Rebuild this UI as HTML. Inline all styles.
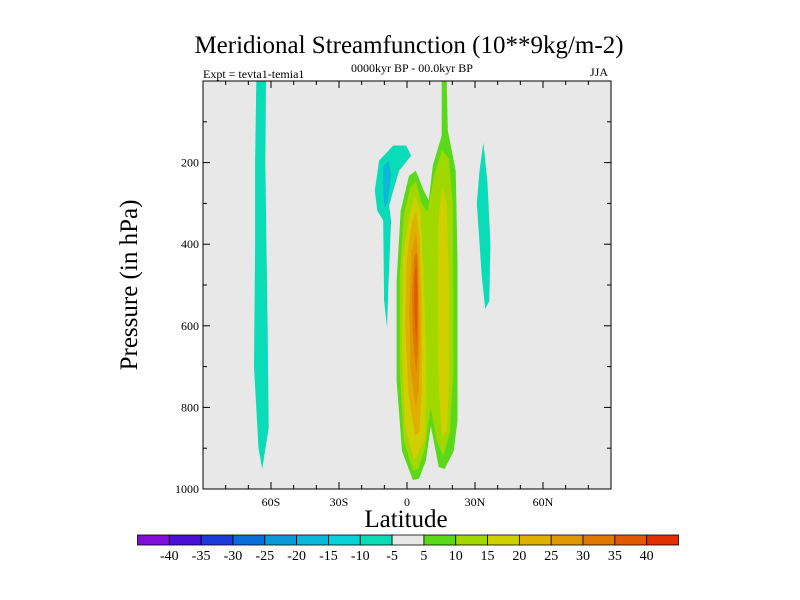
<!DOCTYPE html>
<html><head><meta charset="utf-8"><style>
body{margin:0;background:#fff}
svg{display:block;font-family:"Liberation Serif",serif}
</style></head><body>
<svg id="c" width="800" height="600">
<text x="409" y="53" text-anchor="middle" font-size="25">Meridional Streamfunction (10**9kg/m-2)</text>
<text x="203" y="78" font-size="12">Expt = tevta1-temia1</text>
<text x="412" y="72" text-anchor="middle" font-size="12">0000kyr BP - 00.0kyr BP</text>
<text x="599" y="76" text-anchor="middle" font-size="12">JJA</text>
<text x="406" y="527" text-anchor="middle" font-size="25">Latitude</text>
<text transform="translate(137,285) rotate(-90)" text-anchor="middle" font-size="25">Pressure (in hPa)</text>
<rect x="203" y="81" width="408" height="408" fill="#e8e8e8"/>
<g id="marks"></g>
<g id="axes"></g>
<rect x="203" y="81" width="408" height="408" fill="none" stroke="#000" stroke-width="1"/>
<g id="cbar"></g>
</svg>
<script>
const levelValues=[5,10,15,20,25,30,35,-5,-5,-5,-15];
const levelColors=["#5ad81a","#a0d800","#d0d000","#e0b000","#e09800","#e07800","#e05800","#0adcb8","#0adcb8","#0adcb8","#0ab8d8"];
const blobLat=[
[2.6,-2.2,-4.6,-4.6,-2.8,0.9,3.9,7.4,9.6,11.4,15.3,15.3,17.5,18,21.5,22.3,22.3,20.6,16.6,14,10.5,8.3,5.3],
[2.6,-1.5,-3.2,-3.2,-1.5,1.5,4,6.5,9,12,15.5,18.5,20.2,20.5,19,16,13,10.5,8,5],
[3,-1,-2.2,-1.8,1,3.5,6,7.5,8.5,8],
[3.5,0.5,-0.7,-0.2,2,4,5.5,6.5,6.5,5.5],
[3.8,1.5,1,2,4,5.2,5.6,5.2],
[4,2.5,2.3,3.2,4.5,5,5],
[4,3.2,3.3,4.2,4.6,4.5],
[-66.5,-62.2,-62.5,-61.5,-61,-63.9,-65.5,-67.5,-67,-67],
[-14.2,-12.3,-6.1,-0.4,1.8,-3.5,-6.1,-7.9,-7,-8.3,-8.8,-10.1,-10.5,-13.1],
[33.7,35.5,36.8,36.3,34.5,33,30.8,32],
[-10.5,-8,-7,-8.5,-10,-10.5]];
const blobP=[
[978,907,735,490,318,232,220,269,293,207,134,0,0,121,220,440,833,907,951,946,845,931,975],
[955,880,700,480,330,260,245,300,320,230,170,190,300,700,860,920,880,800,900,950],
[930,840,650,430,330,280,320,500,700,880],
[870,760,600,440,350,320,380,560,760,860],
[800,700,560,420,370,450,620,760],
[720,620,520,430,420,520,650],
[640,560,480,440,520,600],
[0,0,200,600,850,951,900,700,400,200],
[269,195,158,158,183,220,269,306,342,514,605,539,342,318],
[151,250,400,540,558,480,300,220],
[210,195,230,300,310,260]];
const extraLat=[15.5,17.5,18.5,18.5,17.5,15.5,14,13.5,14];
const extraP=[260,300,500,750,860,870,750,500,330];
const xTicks=[-60,-30,0,30,60];
const xTickLabels=["60S","30S","0","30N","60N"];
const yTicks=[200,400,600,800,1000];
const cbarColors=["#8010d8","#4a10d8","#1e3ad8","#0a6ed8","#0a9ad8","#0ab8d8","#0ad0d8","#0adcb8","#e8e8e8","#5ad81a","#a0d800","#d0d000","#e0b000","#e09800","#e07800","#e05800","#e03000"];
const cbarLabels=["-40","-35","-30","-25","-20","-15","-10","-5","5","10","15","20","25","30","35","40"];
const NS="http://www.w3.org/2000/svg";
const X0=203,X1=611,Y0=81,Y1=489;
const sx=lat=>X0+(lat+90)/180*(X1-X0);
const sy=p=>Y0+p/1000*(Y1-Y0);
function mk(tag,parent){const e=document.createElementNS(NS,tag);document.getElementById(parent).appendChild(e);return e;}
function poly(lats,ps,color){
  const e=mk("path","marks");
  let d="";
  lats.forEach((l,i)=>{d+=(i?"L":"M")+sx(l).toFixed(1)+","+sy(ps[i]).toFixed(1);});
  e.setAttribute("d",d+"Z");e.setAttribute("fill",color);
  return e;
}
blobLat.forEach((lats,i)=>{
  const e=poly(lats,blobP[i],levelColors[i]);
  
  
  if(i===2){const f=poly(extraLat,extraP,levelColors[2]);
    
    }
});
for(let lat=-80;lat<=80;lat+=10){
  const major=xTicks.includes(lat),len=major?7:4,x=sx(lat);
  [[Y1,-len],[Y0,len]].forEach(([y,dl])=>{const t=mk("line","axes");
    t.setAttribute("x1",x);t.setAttribute("x2",x);t.setAttribute("y1",y);t.setAttribute("y2",y+dl);t.setAttribute("stroke","#000");
    
    });
}
xTicks.forEach((v,i)=>{const t=mk("text","axes");t.textContent=xTickLabels[i];
  t.setAttribute("x",sx(v));t.setAttribute("y",Y1+17);t.setAttribute("text-anchor","middle");t.setAttribute("font-size","12");
  
  });
for(let p=100;p<1000;p+=100){
  const major=yTicks.includes(p),len=major?7:4,y=sy(p);
  [[X0,len],[X1,-len]].forEach(([x,dl])=>{const t=mk("line","axes");
    t.setAttribute("x1",x);t.setAttribute("x2",x+dl);t.setAttribute("y1",y);t.setAttribute("y2",y);t.setAttribute("stroke","#000");
    
    });
}
yTicks.forEach(v=>{const t=mk("text","axes");t.textContent=v;
  t.setAttribute("x",X0-4);t.setAttribute("y",sy(v)+4);t.setAttribute("text-anchor","end");t.setAttribute("font-size","12");
  
  });
const CB0=137.5,CBW=(678.5-137.5)/cbarColors.length;
cbarColors.forEach((c,i)=>{const r=mk("rect","cbar");
  r.setAttribute("x",CB0+i*CBW);r.setAttribute("y",535);r.setAttribute("width",CBW);r.setAttribute("height",10);
  r.setAttribute("fill",c);r.setAttribute("stroke","#000");r.setAttribute("stroke-width","0.8");
  
  });
cbarLabels.forEach((l,i)=>{const t=mk("text","cbar");t.textContent=l;
  t.setAttribute("x",CB0+(i+1)*CBW);t.setAttribute("y",560);t.setAttribute("text-anchor","middle");t.setAttribute("font-size","14");
  
  });
</script>
</body></html>
